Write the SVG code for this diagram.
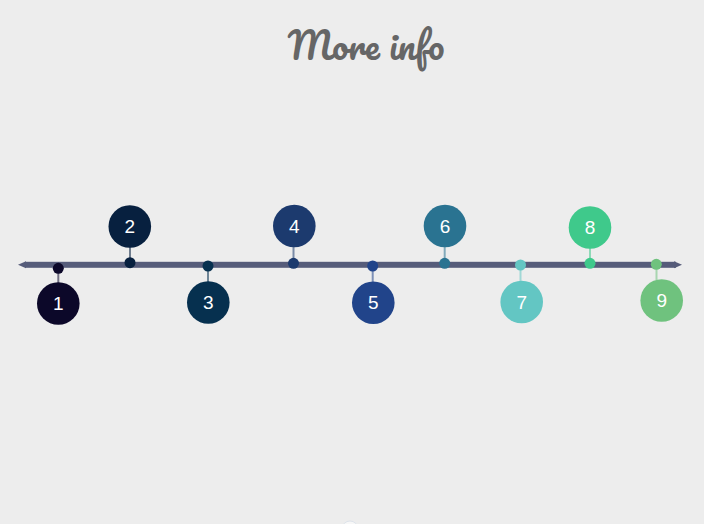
<svg xmlns="http://www.w3.org/2000/svg" width="704" height="524" viewBox="0 0 704 524">
<defs>
<style>
.title{font-family:Pacifico,"Lobster","Comic Sans MS",cursive;font-size:36px;fill:#666666}
.num{font-family:"Liberation Sans",Arial,sans-serif;font-size:19px;fill:#ffffff;text-anchor:middle}
.stem{stroke-width:2;stroke-opacity:0.55}
</style>
</defs>
<rect x="0" y="0" width="704" height="524" fill="#ededed"/>
<text class="title" x="366" y="60" text-anchor="middle">More info</text>
<g id="connectors">
<rect x="25" y="261.8" width="651" height="6" fill="#565c7a"/>
<polygon points="18,264.8 26,261.3 26,268.3" fill="#565c7a"/>
<polygon points="682,264.8 674,261.3 674,268.3" fill="#565c7a"/>
<line class="stem" x1="58.3" y1="268" x2="58.3" y2="283" stroke="#0c0829"/>
<line class="stem" x1="130" y1="262" x2="130" y2="247" stroke="#07203f"/>
<line class="stem" x1="208" y1="266" x2="208" y2="282" stroke="#06304f"/>
<line class="stem" x1="293.5" y1="263" x2="293.5" y2="247" stroke="#1c3a6e"/>
<line class="stem" x1="372.7" y1="266" x2="372.7" y2="282" stroke="#21448a"/>
<line class="stem" x1="444.7" y1="263" x2="444.7" y2="247" stroke="#2a7391"/>
<line class="stem" x1="520.5" y1="265" x2="520.5" y2="281" stroke="#63c6c3"/>
<line class="stem" x1="590" y1="263" x2="590" y2="248" stroke="#3fc98b"/>
<line class="stem" x1="656.5" y1="264" x2="656.5" y2="280" stroke="#6fc27e"/>
</g>
<g id="node1"><circle cx="58.3" cy="268.3" r="5.5" fill="#0c0829"/><circle cx="58.3" cy="303.5" r="21.3" fill="#0c0829"/><text class="num" x="58.3" y="310">1</text></g>
<g id="node2"><circle cx="130" cy="262.7" r="5.5" fill="#07203f"/><circle cx="129.8" cy="226.5" r="21.3" fill="#07203f"/><text class="num" x="129.8" y="233">2</text></g>
<g id="node3"><circle cx="208" cy="266" r="5.5" fill="#06304f"/><circle cx="208.3" cy="302.5" r="21.3" fill="#06304f"/><text class="num" x="208.3" y="309">3</text></g>
<g id="node4"><circle cx="293.5" cy="263.3" r="5.5" fill="#1c3a6e"/><circle cx="294.3" cy="226" r="21.3" fill="#1c3a6e"/><text class="num" x="294.3" y="232.5">4</text></g>
<g id="node5"><circle cx="372.7" cy="266" r="5.5" fill="#21448a"/><circle cx="373.3" cy="302.7" r="21.3" fill="#21448a"/><text class="num" x="373.3" y="309.2">5</text></g>
<g id="node6"><circle cx="444.7" cy="263.3" r="5.5" fill="#2a7391"/><circle cx="445" cy="226" r="21.3" fill="#2a7391"/><text class="num" x="445" y="232.5">6</text></g>
<g id="node7"><circle cx="520.5" cy="265" r="5.5" fill="#63c6c3"/><circle cx="521.7" cy="302" r="21.3" fill="#63c6c3"/><text class="num" x="521.7" y="308.5">7</text></g>
<g id="node8"><circle cx="590" cy="263.3" r="5.5" fill="#3fc98b"/><circle cx="590" cy="227.5" r="21.3" fill="#3fc98b"/><text class="num" x="590" y="234">8</text></g>
<g id="node9"><circle cx="656.3" cy="264.3" r="5.5" fill="#6fc27e"/><circle cx="661.7" cy="300.5" r="21.3" fill="#6fc27e"/><text class="num" x="661.7" y="307">9</text></g>
<circle cx="350" cy="529" r="8" fill="#f7f7f7" stroke="#dde3ea" stroke-width="1"/>
</svg>
